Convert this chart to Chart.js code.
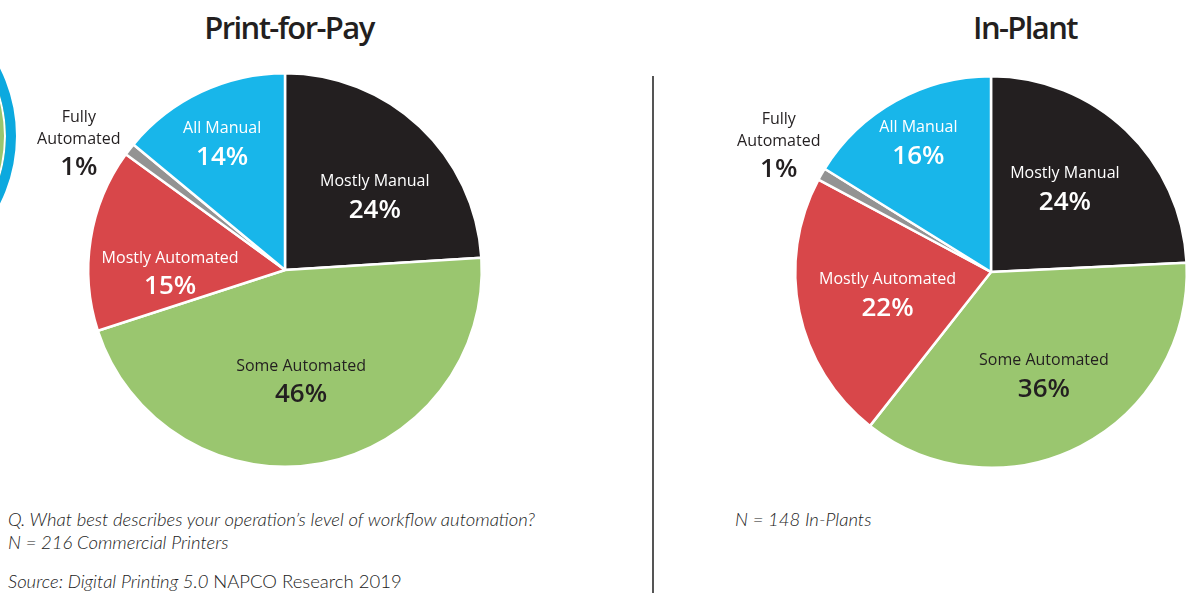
<!DOCTYPE html>
<html>
<head>
<meta charset="utf-8">
<script src="https://cdn.jsdelivr.net/npm/chart.js@4.4.1/dist/chart.umd.min.js"></script>
<style>
  body { margin:0; width:1192px; height:593px; background:#fff; position:relative; overflow:hidden; font-family:"Open Sans", sans-serif; }
  .titulo { position:absolute; top:6px; font-size:31px; font-weight:600; color:#231f20; letter-spacing:-1.6px; text-align:center; width:300px; }
  .nota { position:absolute; font-family:Lato, sans-serif; font-style:italic; font-weight:300; font-size:18.5px; color:#222; white-space:nowrap; }
  .aro { position:absolute; left:-284px; top:-14px; width:300px; height:300px; border-radius:50%; box-sizing:border-box; border:10px solid #0ca9df; background:#9ac66f; box-shadow: inset 0 0 0 2px #fff; }
  .divisor { position:absolute; left:652px; top:76px; width:2px; height:520px; background:#555; }
  canvas { position:absolute; }
</style>
</head>
<body>
<div class="aro"></div>
<div class="titulo" style="left:139px">Print-for-Pay</div>
<div class="titulo" style="left:875px">In-Plant</div>
<div class="divisor"></div>

<div style="position:absolute;left:0;top:60px;width:590px;height:420px"><canvas id="grafPago"></canvas></div>
<div style="position:absolute;left:660px;top:60px;width:532px;height:420px"><canvas id="grafPlanta"></canvas></div>

<div class="nota" style="left:8px;top:508px">Q. What best describes your operation’s level of workflow automation?</div>
<div class="nota" style="left:8px;top:531px">N = 216 Commercial Printers</div>
<div class="nota" style="left:8px;top:570px">Source: <i>Digital Printing 5.0</i> <span style="font-style:normal">NAPCO Research 2019</span></div>
<div class="nota" style="left:735px;top:508px">N = 148 In-Plants</div>

<script>
const categorias = ['Mostly Manual', 'Some Automated', 'Mostly Automated', 'Fully Automated', 'All Manual'];
const valoresPago = [24, 46, 15, 1, 14];
const valoresPlanta = [24, 36, 22, 1, 16];
const colores = ['#231f20', '#9ac66f', '#d8474a', '#939393', '#18b6ea'];
const colorTexto = ['#ffffff', '#231f20', '#ffffff', '#231f20', '#ffffff'];

// etiquetas dentro de cada rebanada
const etiquetasPie = {
  id: 'etiquetasPie',
  afterDatasetsDraw(chart, args, opts) {
    const ctx = chart.ctx;
    const meta = chart.getDatasetMeta(0);
    const vals = chart.data.datasets[0].data;
    meta.data.forEach((arc, i) => {
      const p = arc.getProps(['x', 'y', 'startAngle', 'endAngle', 'outerRadius'], true);
      const ang = (p.startAngle + p.endAngle) / 2 + (opts.giro[i] || 0) * Math.PI / 180;
      const r = p.outerRadius * opts.radio[i];
      const cx = p.x + Math.cos(ang) * r;
      const cy = p.y + Math.sin(ang) * r;
      ctx.save();
      ctx.fillStyle = colorTexto[i];
      ctx.textAlign = 'center';
      ctx.textBaseline = 'middle';
      const nombre = categorias[i];
      if (opts.radio[i] > 1) {
        const partes = nombre.split(' ');
        ctx.font = '400 16px "Open Sans"';
        ctx.fillText(partes[0], cx, cy - 25);
        ctx.fillText(partes[1], cx, cy - 3);
        ctx.font = '600 26px "Open Sans"';
        ctx.fillText(vals[i] + '%', cx, cy + 25);
      } else {
        ctx.font = '400 16px "Open Sans"';
        ctx.fillText(nombre, cx, cy - 14);
        ctx.font = '600 26px "Open Sans"';
        ctx.fillText(vals[i] + '%', cx, cy + 15);
      }
      ctx.restore();
    });
  }
};

function dibujarPie(id, valores, padding, radio, giro) {
  new Chart(document.getElementById(id), {
    type: 'pie',
    data: {
      labels: categorias,
      datasets: [{
        data: valores,
        backgroundColor: colores,
        borderColor: '#ffffff',
        borderWidth: 2.5
      }]
    },
    options: {
      responsive: true,
      maintainAspectRatio: false,
      animation: false,
      layout: { padding: padding },
      plugins: {
        legend: { display: false },
        tooltip: { enabled: false },
        etiquetasPie: { radio: radio, giro: giro }
      }
    },
    plugins: [etiquetasPie]
  });
}

dibujarPie('grafPago', valoresPago, { left: 87, right: 107, top: 12, bottom: 12 },
  [0.594, 0.565, 0.584, 1.233, 0.724], [7, 2.5, -10, -6, -1]);
dibujarPie('grafPlanta', valoresPlanta, { left: 134, right: 4, top: 15, bottom: 11 },
  [0.575, 0.59, 0.54, 1.265, 0.763], [-2.6, 0, 0, 1, 0]);
</script>
</body>
</html>
